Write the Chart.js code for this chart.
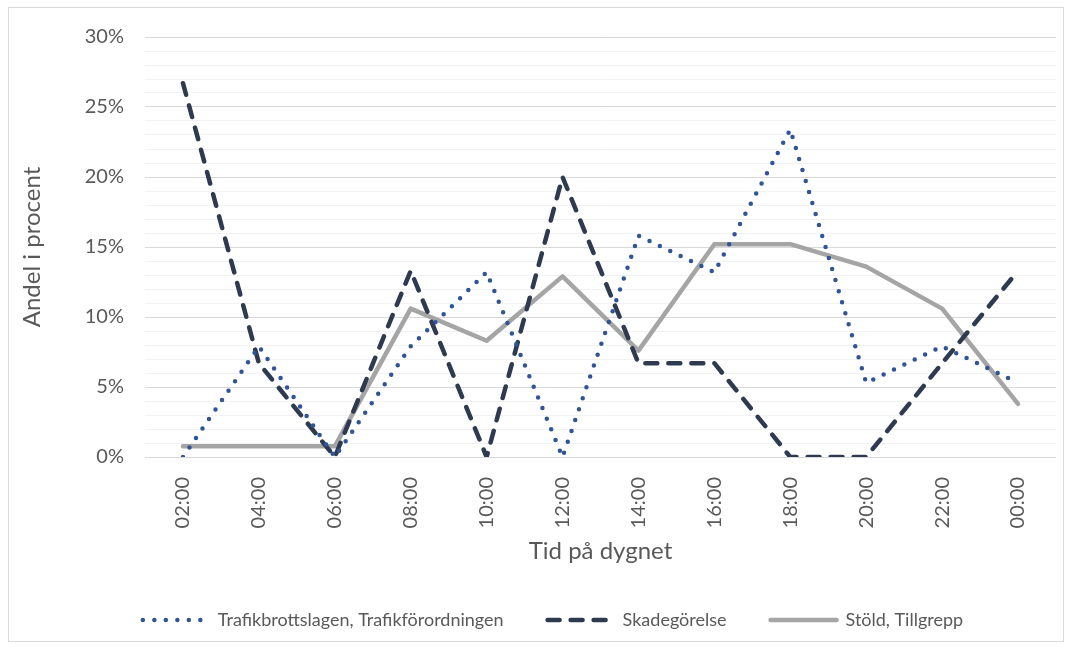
<!DOCTYPE html>
<html>
<head>
<meta charset="utf-8">
<script src="https://cdn.jsdelivr.net/npm/chart.js@4.4.1/dist/chart.umd.min.js"></script>
<style>
  html, body { margin: 0; padding: 0; background: #fff; }
  .frame { position: absolute; left: 8px; top: 7px; width: 1054px; height: 633px; border: 1px solid #d9d9d9; }
  .container { position: absolute; left: 0; top: 0; width: 1070px; height: 649px; }
</style>
</head>
<body>
<div class="frame"></div>
<div class="container">
  <canvas id="brottChart" width="1070" height="649"></canvas>
</div>
<script>
// tider på dygnet (kategorier)
const hours = ['02:00', '04:00', '06:00', '08:00', '10:00', '12:00', '14:00', '16:00', '18:00', '20:00', '22:00', '00:00'];

// andel i procent per serie
const trafik = [0, 7.9, 0, 7.9, 13.2, 0, 15.8, 13.2, 23.4, 5.3, 7.9, 5.3];
const skadegorelse = [26.7, 6.7, 0, 13.3, 0, 20, 6.7, 6.7, 0, 0, 6.7, 13.3];
const stold = [0.76, 0.76, 0.76, 10.6, 8.3, 12.9, 7.6, 15.2, 15.2, 13.6, 10.6, 3.8];

const yMin = 0;
const yMax = 30;
const yLabelEvery = 5;

const textColor = '#595959';
const fontFamily = 'Lato, "Open Sans", sans-serif';

// flytta legenden lite åt höger, som i originalet
const legendShift = {
    id: 'legendShift',
    afterLayout(chart) {
        if (chart.legend) {
            chart.legend.left += 20;
            chart.legend.right += 20;
        }
    }
};

const ctx = document.getElementById('brottChart');

new Chart(ctx, {
    type: 'line',
    data: {
        labels: hours,
        datasets: [{
            label: 'Trafikbrottslagen, Trafikförordningen',
            data: trafik,
            borderColor: '#2f5597',
            borderWidth: 4.5,
            borderDash: [0, 11.5],
            legendDash: [0, 11.5],
            borderCapStyle: 'round',
            borderJoinStyle: 'round',
            pointRadius: 0,
            fill: false,
            tension: 0
        }, {
            label: 'Skadegörelse',
            data: skadegorelse,
            borderColor: '#2d3a50',
            borderWidth: 4.5,
            borderDash: [12, 11],
            borderCapStyle: 'round',
            borderJoinStyle: 'round',
            pointRadius: 0,
            fill: false,
            tension: 0
        }, {
            label: 'Stöld, Tillgrepp',
            data: stold,
            borderColor: '#a5a5a5',
            borderWidth: 4.5,
            borderCapStyle: 'round',
            borderJoinStyle: 'round',
            pointRadius: 0,
            fill: false,
            tension: 0
        }]
    },
    options: {
        responsive: false,
        animation: false,
        layout: {
            padding: { left: 10, right: 14, top: 37, bottom: 10 }
        },
        plugins: {
            tooltip: { enabled: false },
            legend: {
                position: 'bottom',
                labels: {
                    usePointStyle: true,
                    pointStyle: 'line',
                    pointStyleWidth: 66,
                    padding: 44,
                    color: textColor,
                    font: { family: fontFamily, size: 18 },
                    generateLabels: (chart) => {
                        const items = Chart.defaults.plugins.legend.labels.generateLabels(chart);
                        items.forEach((item) => {
                            const ds = chart.data.datasets[item.datasetIndex];
                            item.lineDash = ds.legendDash || ds.borderDash || [];
                            item.lineCap = ds.borderCapStyle;
                            item.lineWidth = ds.borderWidth;
                            item.strokeStyle = ds.borderColor;
                            item.fontColor = textColor;
                        });
                        return items;
                    }
                }
            }
        },
        scales: {
            x: {
                offset: true,
                grid: { display: false },
                border: { display: false },
                ticks: {
                    color: textColor,
                    font: { family: fontFamily, size: 20 },
                    minRotation: 90,
                    maxRotation: 90,
                    padding: 12,
                    autoSkip: false
                },
                title: {
                    display: true,
                    text: 'Tid på dygnet',
                    color: textColor,
                    font: { family: fontFamily, size: 24 },
                    padding: { top: 0, bottom: 1 }
                },
                afterFit: (scale) => { scale.height = 110; }
            },
            y: {
                min: yMin,
                max: yMax,
                border: { display: false },
                grid: {
                    drawTicks: false,
                    color: (c) => (c.tick && c.tick.value % yLabelEvery === 0) ? '#d9d9d9' : '#f2f2f2',
                    lineWidth: 1
                },
                ticks: {
                    stepSize: 1,
                    autoSkip: false,
                    padding: 21,
                    color: textColor,
                    font: { family: fontFamily, size: 20 },
                    callback: (v) => (v % yLabelEvery === 0) ? v + '%' : ''
                },
                title: {
                    display: true,
                    text: 'Andel i procent',
                    color: textColor,
                    font: { family: fontFamily, size: 24 },
                    padding: { top: 8, bottom: 4 }
                },
                afterFit: (scale) => { scale.width = 135; }
            }
        }
    },
    plugins: [legendShift]
});
</script>
</body>
</html>
